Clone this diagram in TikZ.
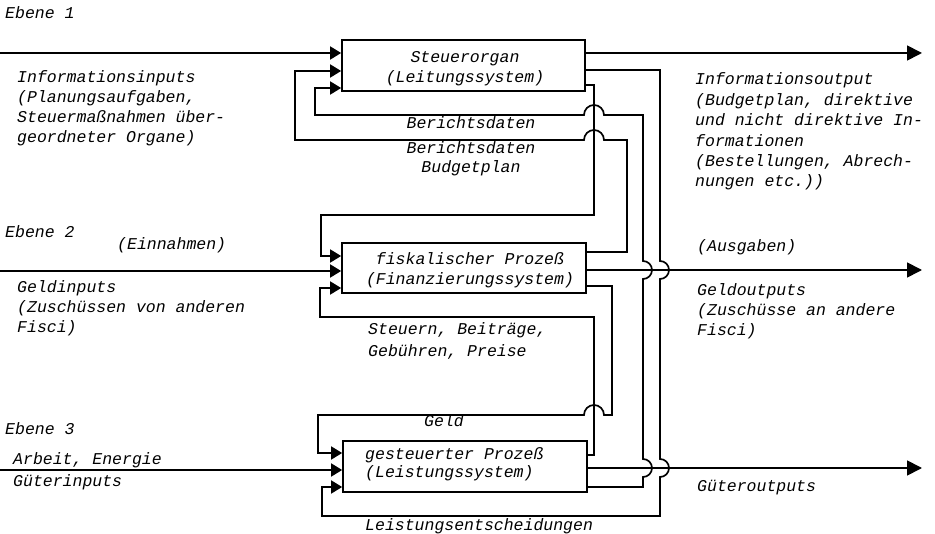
\documentclass[tikz,border=0pt]{standalone}
\usepackage{fontspec}
\setmainfont{Liberation Mono}
\usetikzlibrary{arrows.meta}
\begin{document}
\begin{tikzpicture}[x=1pt,y=-1pt,
  every node/.style={font=\fontsize{16.5}{20.4}\selectfont\itshape},
  lbl/.style={anchor=base west, inner sep=0pt, align=left},
  clbl/.style={anchor=base, inner sep=0pt, align=center},
  box/.style={draw, line width=1.7pt, inner sep=0pt},
  wire/.style={line width=1.7pt, line join=miter},
  arr/.style={wire, -{Triangle[length=11pt,width=13pt]}},
  outarr/.style={wire, -{Triangle[length=15pt,width=15pt]}},
]
\useasboundingbox (0,0) rectangle (935,534);

% boxes
\node[box, minimum width=243pt, minimum height=51pt] (b1) at (463.5,65.5) {};
\node[box, minimum width=244pt, minimum height=50pt] (b2) at (464,268) {};
\node[box, minimum width=244pt, minimum height=51pt] (b3) at (465,466.5) {};

% port coordinates
\coordinate (i1) at (0,53);
\coordinate (o1) at (922,53);
\coordinate (i2) at (0,271);
\coordinate (o2) at (922,270);
\coordinate (i3) at (0,470);
\coordinate (o3) at (922,468);
\coordinate (c1) at (660,70);
\coordinate (d1) at (594,85);
\coordinate (e1) at (643,487);
\coordinate (f1) at (627,252);
\coordinate (g1) at (612,286);
\coordinate (h1) at (594,455);
\coordinate (a1b) at (0,71);
\coordinate (a1c) at (0,88);
\coordinate (a2a) at (0,256);
\coordinate (a2c) at (0,288);
\coordinate (a3a) at (0,453);
\coordinate (a3c) at (0,487);

% inputs and outputs
\draw[arr] (i1) -- (b1.west |- i1);
\draw[outarr] (b1.east |- o1) -- (o1);
\draw[arr] (i2) -- (b2.west |- i2);
\draw[outarr] (b2.east |- o2) -- (o2);
\draw[arr] (i3) -- (b3.west |- i3);
\draw[outarr] (b3.east |- o3) -- (o3);

% Leistungsentscheidungen
\draw[arr] (b1.east |- c1) -- (c1) -- (660,261)
  arc[start angle=90,end angle=-90,radius=9pt] -- (660,459)
  arc[start angle=90,end angle=-90,radius=9pt] -- (660,516) -- (322,516)
  -- (322,487) -- (b3.west |- a3c);

% Budgetplan
\draw[arr] (b1.east |- d1) -- (d1) -- (594,215) -- (321,215) -- (321,256)
  -- (b2.west |- a2a);

% Berichtsdaten (from Leistungssystem)
\draw[arr] (b3.east |- e1) -- (e1) -- (643,477)
  arc[start angle=-90,end angle=90,radius=9pt] -- (643,279)
  arc[start angle=-90,end angle=90,radius=9pt] -- (643,115) -- (604,115)
  arc[start angle=0,end angle=180,radius=10pt] -- (315,115) -- (315,88)
  -- (b1.west |- a1c);

% Berichtsdaten (from Finanzierungssystem)
\draw[arr] (b2.east |- f1) -- (f1) -- (627,140) -- (604,140)
  arc[start angle=0,end angle=180,radius=10pt] -- (295,140) -- (295,71)
  -- (b1.west |- a1b);

% Geld
\draw[arr] (b2.east |- g1) -- (g1) -- (612,415) -- (604,415)
  arc[start angle=0,end angle=180,radius=10pt] -- (318,415) -- (318,453)
  -- (b3.west |- a3a);

% Steuern, Beitraege ...
\draw[arr] (b3.east |- h1) -- (h1) -- (594,317) -- (320,317) -- (320,288)
  -- (b2.west |- a2c);

% texts (multi-line nodes: base = baseline of last line)
\node[lbl] (t1) at (5,19) {Ebene 1};
\node[lbl, font=\fontsize{16.5}{20}\selectfont\itshape] (t2) at (17,143) {Informationsinputs\\(Planungsaufgaben,\\Steuermaßnahmen über-\\geordneter Organe)};
\node[clbl] (t3) at (465,83) {Steuerorgan\\(Leitungssystem)};
\node[clbl] (t4) at (471,129) {Berichtsdaten};
\node[clbl, font=\fontsize{16.5}{19.5}\selectfont\itshape] (t5) at (471,173) {Berichtsdaten\\Budgetplan};
\node[lbl] (t6) at (695,187) {Informationsoutput\\(Budgetplan, direktive\\und nicht direktive In-\\formationen\\(Bestellungen, Abrech-\\nungen etc.))};
\node[lbl] (t7) at (5,238) {Ebene 2};
\node[lbl] (t8) at (117,250) {(Einnahmen)};
\node[lbl] (t9) at (17,333) {Geldinputs\\(Zuschüssen von anderen\\Fisci)};
\node[clbl] (t10) at (470,285) {fiskalischer Prozeß\\(Finanzierungssystem)};
\node[lbl] (t11) at (697,252) {(Ausgaben)};
\node[lbl] (t12) at (697,336) {Geldoutputs\\(Zuschüsse an andere\\Fisci)};
\node[lbl, font=\fontsize{16.5}{22}\selectfont\itshape] (t13) at (368,357) {Steuern, Beiträge,\\Gebühren, Preise};
\node[lbl] (t14) at (5,435) {Ebene 3};
\node[lbl, font=\fontsize{16.5}{22}\selectfont\itshape] (t15) at (13,487) {Arbeit, Energie\\Güterinputs};
\node[lbl] (t16) at (424,427) {Geld};
\node[lbl, font=\fontsize{16.5}{18.5}\selectfont\itshape] (t17) at (365,478) {gesteuerter Prozeß\\(Leistungssystem)};
\node[lbl] (t18) at (697,492) {Güteroutputs};
\node[lbl] (t19) at (365,530) {Leistungsentscheidungen};
\end{tikzpicture}
\end{document}
